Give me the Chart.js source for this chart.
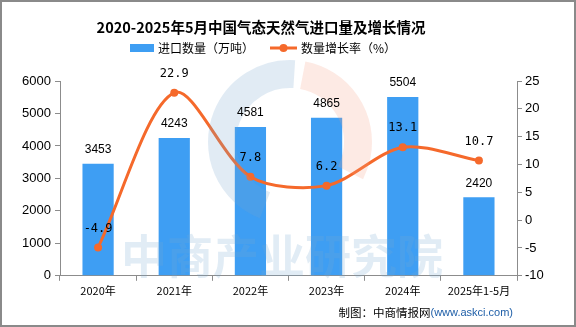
<!DOCTYPE html>
<html>
<head>
<meta charset="utf-8">
<script src="https://cdn.jsdelivr.net/npm/chart.js@4"></script>
<style>
  html, body { margin: 0; padding: 0; background: #fff; }
</style>
</head>
<body>
<canvas id="chart" width="576" height="327"></canvas>
<script>
/* chart data */
const categories = ["2020年", "2021年", "2022年", "2023年", "2024年", "2025年1-5月"];
const importVolume = [3453, 4243, 4581, 4865, 5504, 2420]; // 万吨
const growthRate = [-4.9, 22.9, 7.8, 6.2, 13.1, 10.7]; // %
const leftTicks = [0, 1000, 2000, 3000, 4000, 5000, 6000];
const rightTicks = [-10, -5, 0, 5, 10, 15, 20, 25];

const BAR_COL = "#3e9ef3";
const LINE_COL = "#f5692b";
const AXIS_COL = "#8c8c8c";
const CJK = "'Noto Sans CJK SC', sans-serif";
const NUM = "'Liberation Sans', Arial, sans-serif";

/* title, legend, watermark, value labels, footer and border */
const extras = {
    id: "extras",
    beforeDraw(chart) {
        const ctx = chart.ctx;
        ctx.save();
        ctx.fillStyle = "#000";
        ctx.textAlign = "center";
        ctx.textBaseline = "middle";
        ctx.font = "bold 14.5px " + CJK;
        ctx.fillText("2020-2025年5月中国气态天然气进口量及增长情况", 261, 27);
        // legend
        ctx.textAlign = "left";
        ctx.font = "12px " + CJK;
        ctx.fillStyle = BAR_COL;
        ctx.fillRect(130, 44, 24, 8);
        ctx.fillStyle = "#000";
        ctx.fillText("进口数量（万吨）", 158, 48);
        ctx.strokeStyle = LINE_COL;
        ctx.lineWidth = 3;
        ctx.beginPath();
        ctx.moveTo(270, 48);
        ctx.lineTo(297, 48);
        ctx.stroke();
        ctx.fillStyle = LINE_COL;
        ctx.beginPath();
        ctx.arc(283.5, 48, 4, 0, Math.PI * 2);
        ctx.fill();
        ctx.fillStyle = "#000";
        ctx.fillText("数量增长率（%）", 301, 48);
        ctx.restore();
    },
    afterDatasetsDraw(chart) {
        const ctx = chart.ctx;
        ctx.save();
        // faint logo ring
        ctx.lineWidth = 28;
        ctx.strokeStyle = "rgba(120,165,205,0.22)";
        ctx.beginPath();
        ctx.arc(290, 142, 68, Math.PI * 0.62, Math.PI * 1.52);
        ctx.stroke();
        ctx.strokeStyle = "rgba(245,160,130,0.22)";
        ctx.beginPath();
        ctx.arc(290, 142, 68, Math.PI * 1.56, Math.PI * 0.15);
        ctx.stroke();
        // watermark text
        ctx.font = "bold 46px " + CJK;
        ctx.fillStyle = "rgba(120,170,210,0.22)";
        ctx.textAlign = "center";
        ctx.textBaseline = "middle";
        ctx.fillText("中商产业研究院", 282, 256);
        ctx.restore();
    },
    afterDraw(chart) {
        const ctx = chart.ctx;
        ctx.save();
        ctx.fillStyle = "#000";
        ctx.textAlign = "center";
        ctx.textBaseline = "middle";
        ctx.font = "12px " + NUM;
        chart.getDatasetMeta(1).data.forEach((bar, i) => {
            ctx.fillText(String(importVolume[i]), bar.x, bar.y - 14);
        });
        ctx.font = "12px 'DejaVu Sans Mono', monospace";
        chart.getDatasetMeta(0).data.forEach((pt, i) => {
            ctx.fillText(growthRate[i].toFixed(1), pt.x, pt.y - 19);
        });
        // footer
        ctx.textAlign = "right";
        ctx.font = "11px " + NUM;
        ctx.fillStyle = "#1f5fa8";
        const src = "(www.askci.com)";
        ctx.fillText(src, 513, 313);
        const w = ctx.measureText(src).width;
        ctx.font = "11.5px " + CJK;
        ctx.fillStyle = "#000";
        ctx.fillText("制图：中商情报网", 513 - w, 313);
        // outer border
        ctx.strokeStyle = "#8a8a8a";
        ctx.lineWidth = 2;
        ctx.strokeRect(1, 1, 574, 325);
        ctx.restore();
    }
};

const ctx = document.getElementById("chart").getContext("2d");
new Chart(ctx, {
    data: {
        labels: categories,
        datasets: [
            {
                type: "line",
                label: "数量增长率（%）",
                data: growthRate,
                yAxisID: "yR",
                borderColor: LINE_COL,
                backgroundColor: LINE_COL,
                borderWidth: 3,
                tension: 0.3,
                pointRadius: 4,
                pointBorderWidth: 0,
                order: 0
            },
            {
                type: "bar",
                label: "进口数量（万吨）",
                data: importVolume,
                yAxisID: "yL",
                backgroundColor: BAR_COL,
                barPercentage: 0.41,
                categoryPercentage: 1.0,
                order: 1
            }
        ]
    },
    options: {
        responsive: false,
        animation: false,
        layout: { padding: { top: 81, bottom: 27, left: 0, right: 0 } },
        plugins: {
            title: { display: false },
            legend: { display: false },
            tooltip: { enabled: false }
        },
        scales: {
            x: {
                offset: true,
                grid: { offset: true, drawOnChartArea: false, tickLength: 5, color: AXIS_COL },
                border: { color: AXIS_COL, width: 1 },
                ticks: { color: "#000", font: { family: CJK, size: 11 }, maxRotation: 0, padding: 3 }
            },
            yL: {
                position: "left",
                min: 0, max: 6000,
                afterBuildTicks(axis) { axis.ticks = leftTicks.map(v => ({ value: v })); },
                afterFit(axis) { axis.width = 60; },
                grid: { drawOnChartArea: false, tickLength: 5, color: AXIS_COL },
                border: { color: AXIS_COL, width: 1 },
                ticks: { color: "#000", font: { family: NUM, size: 13 }, padding: 4, callback: v => String(v) }
            },
            yR: {
                position: "right",
                min: -10, max: 25,
                afterBuildTicks(axis) { axis.ticks = rightTicks.map(v => ({ value: v })); },
                afterFit(axis) { axis.width = 59; },
                grid: { drawOnChartArea: false, tickLength: 5, color: AXIS_COL },
                border: { color: AXIS_COL, width: 1 },
                ticks: { color: "#000", font: { family: NUM, size: 13 }, padding: 3, callback: v => String(v) }
            }
        }
    },
    plugins: [extras]
});
</script>
</body>
</html>
